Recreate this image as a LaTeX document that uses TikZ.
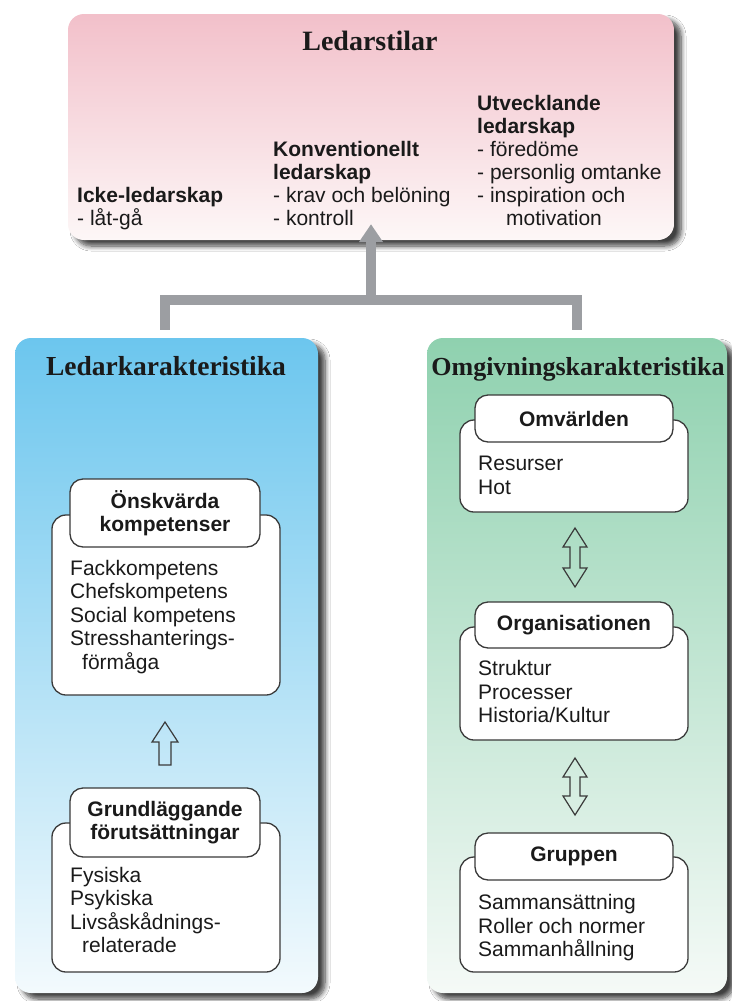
\documentclass[tikz,border=0pt]{standalone}
\usepackage{fontspec}
\setmainfont{Liberation Sans}
\newfontfamily\titlefont{Liberation Serif}
\usetikzlibrary{shadows.blur,arrows.meta,calc}
\definecolor{pinktop}{HTML}{F2C0CA}
\definecolor{pinkbot}{HTML}{FDF7F7}
\definecolor{bluetop}{HTML}{6CC6EE}
\definecolor{bluebot}{HTML}{F3FAFD}
\definecolor{greentop}{HTML}{8FD1AF}
\definecolor{greenbot}{HTML}{F5FAF7}
\definecolor{linkgray}{HTML}{9C9EA2}
\definecolor{edgegray}{HTML}{3A3A3A}
\definecolor{ink}{HTML}{1A1A1A}
\begin{document}
\begin{tikzpicture}[x=1pt,y=-1pt,
  panel/.style={rectangle, rounded corners=16pt, inner sep=0pt,
    blur shadow={shadow xshift=7pt, shadow yshift=-6pt, shadow blur steps=8,
      shadow opacity=75, shadow blur radius=5pt}},
  ttl/.style={anchor=base, inner sep=0pt, text=ink,
    font=\titlefont\bfseries\fontsize{27.5}{30}\selectfont},
  col/.style={anchor=base west, align=left, inner sep=0pt, text=ink,
    font=\fontsize{21}{23}\selectfont},
  bodytext/.style={anchor=base west, align=left, inner sep=0pt, text=ink,
    font=\fontsize{21}{23.5}\selectfont},
  bodybox/.style={rectangle, draw=edgegray, line width=1.3pt, fill=white,
    rounded corners=14pt, inner sep=0pt},
  tabbox/.style={rectangle, draw=edgegray, line width=1.3pt, fill=white,
    rounded corners=13pt, inner sep=0pt, align=center, text=ink,
    font=\bfseries\fontsize{21}{23.5}\selectfont},
  link/.style={draw=linkgray, line width=10pt, line cap=butt, line join=miter},
  hollow/.style={draw=edgegray, line width=1.2pt, line join=miter}
]
\useasboundingbox (0,0) rectangle (731,1001);
\fill[white] (0,0) rectangle (731,1001);

% top panel (multi-line nodes are placed by the baseline of their last line)
\node[panel, top color=pinktop, bottom color=pinkbot,
  minimum width=606pt, minimum height=226pt] (top) at (371,127) {};
\node[ttl, font=\titlefont\bfseries\fontsize{28}{30}\selectfont] (toptitle) at (370,50) {Ledarstilar};
\node[col] (c1) at (77,225) {\textbf{Icke-ledarskap}\\- låt-gå};
\node[col] (c2) at (273,225) {\textbf{Konventionellt}\\\textbf{ledarskap}\\- krav och belöning\\- kontroll};
\node[col] (c3) at (477,225) {\textbf{Utvecklande}\\\textbf{ledarskap}\\- föredöme\\- personlig omtanke\\- inspiration och\\\hspace*{29pt}motivation};

% side panels
\node[panel, top color=bluetop, bottom color=bluebot,
  minimum width=303pt, minimum height=655pt] (lk) at (166.5,665.5) {};
\node[panel, top color=greentop, bottom color=greenbot,
  minimum width=300pt, minimum height=655pt] (ok) at (577,665.5) {};
\node[ttl] (lkt) at (166,375) {Ledarkarakteristika};
\node[ttl, font=\titlefont\bfseries\fontsize{26}{30}\selectfont] (okt) at (578,375) {Omgivningskarakteristika};

% grey connector
\coordinate (legL) at ($(lk.north)+(-1.5,-8)$);
\coordinate (legR) at ($(ok.north)+(0,-8)$);
\coordinate (barL) at ($(legL)+(0,-30)$);
\coordinate (barR) at ($(legR)+(0,-30)$);
\coordinate (barM) at ($(barL)!0.5!(barR)$);
\coordinate (tip) at ($(top.south)+(0,-16)$);
\draw[link] (legL) -- (barL) -- (barR) -- (legR);
\draw[link, -{Triangle[width=23pt,length=18pt]}] ($(barM)+(0,4)$) -- (tip);

% left inner boxes
\node[bodybox, minimum width=228pt, minimum height=180pt] (b1) at (166,605) {};
\node[tabbox, minimum width=190pt, minimum height=68pt] (t1) at (165,513) {Önskvärda\\kompetenser};
\node[bodytext] (x1) at (70,669) {Fackkompetens\\Chefskompetens\\Social kompetens\\Stresshanterings-\\\hspace*{12pt}förmåga};

\node[bodybox, minimum width=228pt, minimum height=149pt] (b2) at (166,897.5) {};
\node[tabbox, minimum width=190pt, minimum height=69pt] (t2) at (165,822.5) {Grundläggande\\förutsättningar};
\node[bodytext] (x2) at (70,952.5) {Fysiska\\Psykiska\\Livsåskådnings-\\\hspace*{12pt}relaterade};

\draw[hollow] (165,722) -- (178,742) -- (171,742) -- (171,765) -- (159,765)
  -- (159,742) -- (152,742) -- cycle;

% right inner boxes
\node[bodybox, minimum width=228pt, minimum height=92pt] (b3) at (574,466) {};
\node[tabbox, minimum width=198pt, minimum height=47pt] (t3) at (574,418.5) {Omvärlden};
\node[bodytext] (x3) at (478,494) {Resurser\\Hot};

\node[bodybox, minimum width=228pt, minimum height=113pt] (b4) at (574,683.5) {};
\node[tabbox, minimum width=198pt, minimum height=46pt] (t4) at (574,625) {Organisationen};
\node[bodytext] (x4) at (478,722.5) {Struktur\\Processer\\Historia/Kultur};

\node[bodybox, minimum width=228pt, minimum height=115pt] (b5) at (574,914.5) {};
\node[tabbox, minimum width=198pt, minimum height=47pt] (t5) at (574,856.5) {Gruppen};
\node[bodytext] (x5) at (478,956.5) {Sammansättning\\Roller och normer\\Sammanhållning};

\draw[hollow] (575,528) -- (587,547) -- (580,547) -- (580,568) -- (587,568)
  -- (575,587) -- (563,568) -- (570,568) -- (570,547) -- (563,547) -- cycle;
\draw[hollow] (575,758) -- (587,777) -- (580,777) -- (580,796) -- (587,796)
  -- (575,815) -- (563,796) -- (570,796) -- (570,777) -- (563,777) -- cycle;
\end{tikzpicture}
\end{document}
